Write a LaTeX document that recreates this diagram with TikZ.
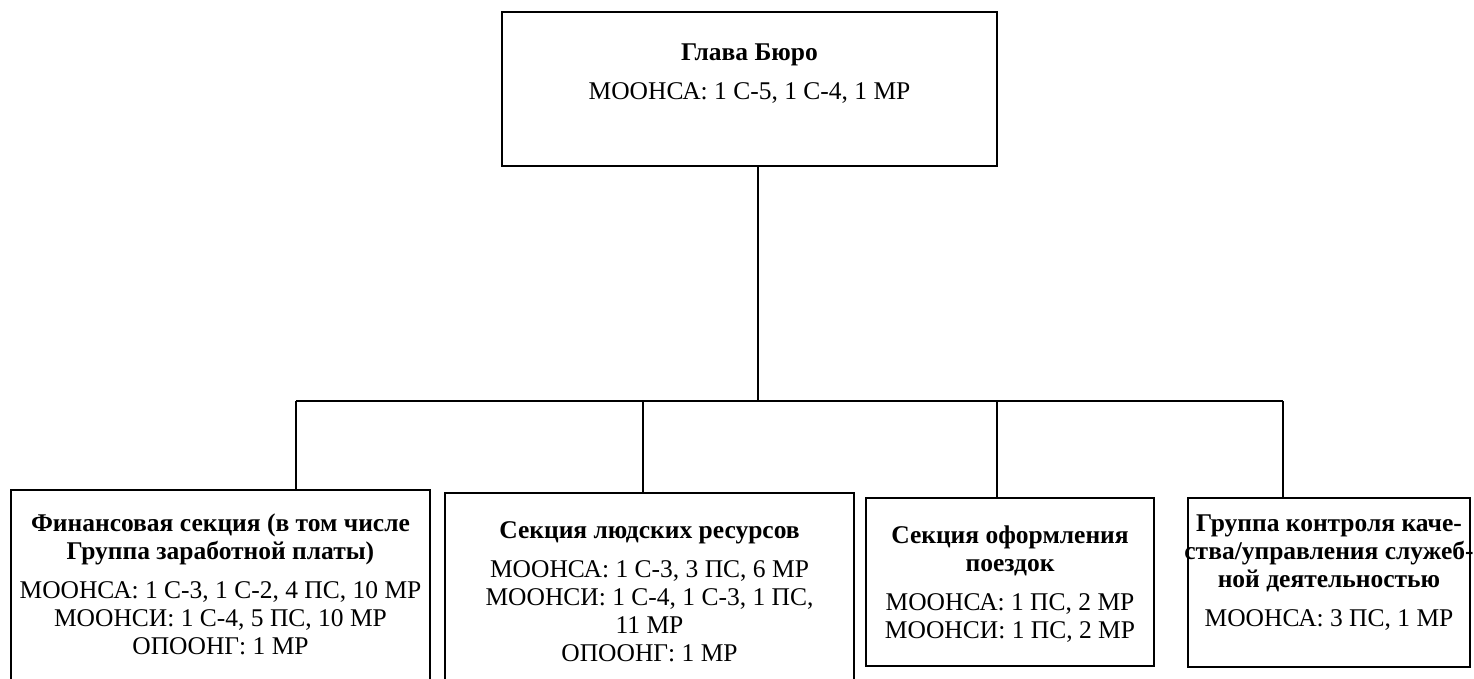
\documentclass[tikz,border=0pt]{standalone}
\usepackage{fontspec}
\setmainfont{Liberation Serif}
\usetikzlibrary{positioning}
\tikzset{
  unitbox/.style={rectangle, draw, line width=2.6pt, inner sep=0pt, outer sep=0pt},
  unittext/.style={align=center, inner sep=0pt, font=\fontsize{25.5}{28}\selectfont},
  link/.style={line width=1.6pt}
}
\newcommand{\hd}[1]{\textbf{#1}}

\begin{document}
\begin{tikzpicture}[x=1pt,y=1pt]
\useasboundingbox (0,0) rectangle (1474,-678);
\clip (0,0) rectangle (1474,-678);

% boxes
\node[unitbox, minimum width=495, minimum height=154] (head) at (749.5,-89) {};
\node[unitbox, anchor=north west, minimum width=419, minimum height=260] (fin) at (11,-490) {};
\node[unitbox, anchor=north west, minimum width=409, minimum height=260] (hr) at (445,-493) {};
\node[unitbox, anchor=north west, minimum width=288, minimum height=168] (trav) at (866,-498) {};
\node[unitbox, anchor=north west, minimum width=282, minimum height=169] (qual) at (1188,-498) {};

% texts
\node[unittext, below=31.5pt of head.north] (headtxt) {\hd{Глава Бюро}\\[11pt]
  МООНСА: 1 С-5, 1 С-4, 1 МР};
\node[unittext, below=24pt of fin.north] (fintxt) {\hd{Финансовая секция (в том числе}\\
  \hd{Группа заработной платы)}\\[11pt]
  МООНСА: 1 С-3, 1 С-2, 4 ПС, 10 МР\\
  МООНСИ: 1 С-4, 5 ПС, 10 МР\\
  ОПООНГ: 1 МР};
\node[unittext, below=28pt of hr.north] (hrtxt) {\hd{Секция людских ресурсов}\\[11pt]
  МООНСА: 1 С-3, 3 ПС, 6 МР\\
  МООНСИ: 1 С-4, 1 С-3, 1 ПС,\\
  11 МР\\
  ОПООНГ: 1 МР};
\node[unittext, below=27.5pt of trav.north] (travtxt) {\hd{Секция оформления}\\
  \hd{поездок}\\[11pt]
  МООНСА: 1 ПС, 2 МР\\
  МООНСИ: 1 ПС, 2 МР};
\node[unittext, below=17pt of qual.north] (qualtxt) {\hd{Группа контроля каче-}\\
  \hd{ства/управления служеб-}\\
  \hd{ной деятельностью}\\[11pt]
  МООНСА: 3 ПС, 1 МР};

% connectors
\coordinate (bmid) at (758,-401);
\coordinate (bfin) at (296,-401);
\coordinate (bhr) at (643,-401);
\coordinate (btrav) at (997,-401);
\coordinate (bqual) at (1283,-401);
\draw[link] (bmid |- head.south) -- (bmid);
\draw[link] (bfin) -- (bqual);
\draw[link] (bfin) -- (bfin |- fin.north);
\draw[link] (bhr) -- (bhr |- hr.north);
\draw[link] (btrav) -- (btrav |- trav.north);
\draw[link] (bqual) -- (bqual |- qual.north);
\end{tikzpicture}
\end{document}
